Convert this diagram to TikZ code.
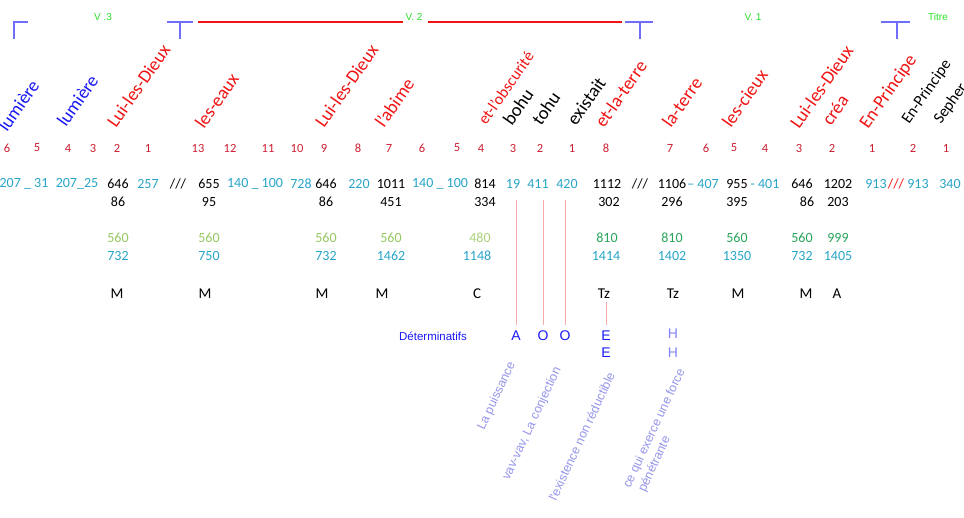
\documentclass[tikz,border=0pt]{standalone}
\usepackage{fontspec}
\setmainfont{Carlito}
\newfontfamily\arial{Liberation Sans}
\usetikzlibrary{positioning}

\definecolor{bleumot}{RGB}{25,25,245}
\definecolor{rougemot}{RGB}{240,20,20}
\definecolor{rougeidx}{RGB}{205,30,50}
\definecolor{cyanval}{RGB}{40,165,200}
\definecolor{vertclair}{RGB}{150,200,100}
\definecolor{vertpale}{RGB}{170,210,120}
\definecolor{vertfonce}{RGB}{40,165,90}
\definecolor{vertvers}{RGB}{40,225,40}
\definecolor{bleutrait}{RGB}{110,110,250}
\definecolor{roselien}{RGB}{245,170,170}
\definecolor{mauve}{RGB}{150,150,235}
\definecolor{bleuh}{RGB}{130,130,250}

\begin{document}
\begin{tikzpicture}[x=1pt,y=-1pt,inner sep=0pt]

	\tikzstyle{mot}=[rotate=55,anchor=base west,font=\fontsize{18.5}{20}\selectfont]
	\tikzstyle{motpetit}=[rotate=55,anchor=base west,font=\fontsize{16}{18}\selectfont]
	\tikzstyle{idx}=[text=rougeidx,font=\fontsize{12.5}{14}\selectfont]
	\tikzstyle{val}=[font=\fontsize{14}{16}\selectfont]
	\tikzstyle{lettre}=[font=\fontsize{15}{17}\selectfont]
	\tikzstyle{vers}=[text=vertvers,font=\arial\fontsize{10}{12}\selectfont]
	\tikzstyle{crochet}=[draw=bleutrait,line width=1.5pt]
	\tikzstyle{lien}=[draw=roselien,line width=1pt]
	\tikzstyle{det}=[text=bleumot,font=\arial\fontsize{14}{16}\selectfont]
	\tikzstyle{sens}=[rotate=65,anchor=base west,text=mauve,font=\arial\fontsize{12.5}{14}\selectfont]

	\useasboundingbox[fill=white] (0,0) rectangle (964,518);

	% versets
	\draw[crochet] (28,22) -- (14,22) -- (14,39);
	\draw[crochet] (167,22) -- (193,22) (180,22) -- (180,39);
	\draw[draw=rougemot,line width=2pt] (198,22) -- (403,22) (428,22) -- (622,22);
	\draw[crochet] (625,22) -- (653,22) (640,22) -- (640,39);
	\draw[crochet] (881,22) -- (910,22) (897,22) -- (897,39);
	\node[vers] (v3) at (103,17) {V .3};
	\node[vers] (v2) at (414,17) {V. 2};
	\node[vers] (v1) at (753,17) {V. 1};
	\node[vers] (titre) at (938,17) {Titre};

	% mots
	\node[mot,text=bleumot] (lumA) at (7,133) {lumière};
	\node[mot,text=bleumot] (lumB) at (66,128) {lumière};
	\node[mot,text=rougemot] (dieuxA) at (116,129) {Lui-les-Dieux};
	\node[mot,text=rougemot] (eaux) at (204,130) {les-eaux};
	\node[mot,text=rougemot] (dieuxB) at (324,129) {Lui-les-Dieux};
	\node[mot,text=rougemot] (abime) at (384,129) {l'abime};
	\node[motpetit,text=rougemot] (obscur) at (486,126) {et-l'obscurité};
	\node[mot,text=black] (bohu) at (512,127) {bohu};
	\node[mot,text=black] (tohu) at (541,127) {tohu};
	\node[mot,text=black] (existait) at (576,127) {existait};
	\node[mot,text=rougemot] (etterre) at (604,129) {et-la-terre};
	\node[mot,text=rougemot] (terre) at (671,129) {la-terre};
	\node[mot,text=rougemot] (cieux) at (731,129) {les-cieux};
	\node[mot,text=rougemot] (dieuxC) at (799,130) {Lui-les-Dieux};
	\node[mot,text=rougemot] (crea) at (831,127) {créa};
	\node[mot,text=rougemot] (principeA) at (868,130) {En-Principe};
	\node[motpetit,text=black] (principeB) at (909,125) {En-Principe};
	\node[motpetit,text=black] (sepher) at (941,125) {Sepher};

	% rangs
	\node[idx] (i6a) at (7,148) {6};
	\node[idx] (i5a) at (37,148) {5};
	\node[idx] (i4a) at (68,148) {4};
	\node[idx] (i3a) at (93,148) {3};
	\node[idx] (i2a) at (117,148) {2};
	\node[idx] (i1a) at (148,148) {1};
	\node[idx] (i13b) at (198,148) {13};
	\node[idx] (i12b) at (230,148) {12};
	\node[idx] (i11b) at (268,148) {11};
	\node[idx] (i10b) at (297,148) {10};
	\node[idx] (i9b) at (324,148) {9};
	\node[idx] (i8b) at (358,148) {8};
	\node[idx] (i7b) at (389,148) {7};
	\node[idx] (i6b) at (422,148) {6};
	\node[idx] (i5b) at (457,148) {5};
	\node[idx] (i4b) at (481,148) {4};
	\node[idx] (i3b) at (513,148) {3};
	\node[idx] (i2b) at (540,148) {2};
	\node[idx] (i1b) at (572,148) {1};
	\node[idx] (i8c) at (606,148) {8};
	\node[idx] (i7c) at (670,148) {7};
	\node[idx] (i6c) at (706,148) {6};
	\node[idx] (i5c) at (734,148) {5};
	\node[idx] (i4c) at (765,148) {4};
	\node[idx] (i3c) at (799,148) {3};
	\node[idx] (i2c) at (832,148) {2};
	\node[idx] (i1c) at (872,148) {1};
	\node[idx] (i2d) at (913,148) {2};
	\node[idx] (i1d) at (946,148) {1};

	% valeurs
	\node[val,text=cyanval] (n207a) at (24,184) {207 \_ 31};
	\node[val,text=cyanval] (n207b) at (77,184) {207\_25};
	\node[val] (n646a) at (118,184) {646};
	\node[val,text=cyanval] (n257) at (148,184) {257};
	\node[val] (barA) at (178,184) {///};
	\node[val] (n655) at (209,184) {655};
	\node[val,text=cyanval] (n140a) at (255,184) {140 \_ 100};
	\node[val,text=cyanval] (n728) at (301,184) {728};
	\node[val] (n646b) at (326,184) {646};
	\node[val,text=cyanval] (n220) at (359,184) {220};
	\node[val] (n1011) at (391,184) {1011};
	\node[val,text=cyanval] (n140b) at (440,184) {140 \_ 100};
	\node[val] (n814) at (485,184) {814};
	\node[val,text=cyanval] (n19) at (513,184) {19};
	\node[val,text=cyanval] (n411) at (538,184) {411};
	\node[val,text=cyanval] (n420) at (567,184) {420};
	\node[val] (n1112) at (607,184) {1112};
	\node[val] (barB) at (640,184) {///};
	\node[val] (n1106) at (672,184) {1106};
	\node[val,text=cyanval] (n407) at (703,184) {– 407};
	\node[val] (n955) at (737,184) {955};
	\node[val,text=cyanval] (n401) at (765,184) {- 401};
	\node[val] (n646c) at (802,184) {646};
	\node[val] (n1202) at (838,184) {1202};
	\node[val,text=cyanval] (n913a) at (876,184) {913};
	\node[val,text=rougemot] (barC) at (896,184) {///};
	\node[val,text=cyanval] (n913b) at (918,184) {913};
	\node[val,text=cyanval] (n340) at (950,184) {340};

	\node[val] (n86a) at (118,202) {86};
	\node[val] (n95) at (209,202) {95};
	\node[val] (n86b) at (326,202) {86};
	\node[val] (n451) at (391,202) {451};
	\node[val] (n334) at (485,202) {334};
	\node[val] (n302) at (609,202) {302};
	\node[val] (n296) at (672,202) {296};
	\node[val] (n395) at (737,202) {395};
	\node[val] (n86c) at (807,202) {86};
	\node[val] (n203) at (838,202) {203};

	\node[val,text=vertclair] (p560a) at (118,238) {560};
	\node[val,text=vertclair] (p560b) at (209,238) {560};
	\node[val,text=vertclair] (p560c) at (326,238) {560};
	\node[val,text=vertclair] (p560d) at (391,238) {560};
	\node[val,text=vertpale] (p480) at (480,238) {480};
	\node[val,text=vertfonce] (p810a) at (607,238) {810};
	\node[val,text=vertfonce] (p810b) at (672,238) {810};
	\node[val,text=vertfonce] (p560e) at (737,238) {560};
	\node[val,text=vertfonce] (p560f) at (802,238) {560};
	\node[val,text=vertfonce] (p999) at (838,238) {999};

	\node[val,text=cyanval] (t732a) at (118,256) {732};
	\node[val,text=cyanval] (t750) at (209,256) {750};
	\node[val,text=cyanval] (t732b) at (326,256) {732};
	\node[val,text=cyanval] (t1462) at (391,256) {1462};
	\node[val,text=cyanval] (t1148) at (477,256) {1148};
	\node[val,text=cyanval] (t1414) at (606,256) {1414};
	\node[val,text=cyanval] (t1402) at (672,256) {1402};
	\node[val,text=cyanval] (t1350) at (737,256) {1350};
	\node[val,text=cyanval] (t732c) at (802,256) {732};
	\node[val,text=cyanval] (t1405) at (838,256) {1405};

	% lettres
	\node[lettre] (mA) at (117,294) {M};
	\node[lettre] (mB) at (205,294) {M};
	\node[lettre] (mC) at (322,294) {M};
	\node[lettre] (mD) at (382,294) {M};
	\node[lettre] (cA) at (477,294) {C};
	\node[lettre] (tzA) at (604,294) {Tz};
	\node[lettre] (tzB) at (673,294) {Tz};
	\node[lettre] (mE) at (738,294) {M};
	\node[lettre] (mF) at (806,294) {M};
	\node[lettre] (aA) at (837,294) {A};

	% determinatifs
	\node[text=bleumot,font=\arial\fontsize{11.5}{13}\selectfont] (determ) at (433,336) {Déterminatifs};
	\node[det] (dA) at (516,336) {A};
	\node[det] (dO) at (543,336) {O};
	\node[det] (dOb) at (565,336) {O};
	\node[det] (dE) at (606,336) {E};
	\node[det] (dEb) at (606,353) {E};
	\node[det,text=bleuh] (dH) at (673,334) {H};
	\node[det,text=bleuh] (dHb) at (673,353) {H};

	\draw[lien,shorten <=11pt,shorten >=6pt] (dA.north |- n19.south) -- (dA.north);
	\draw[lien,shorten <=11pt,shorten >=6pt] (dO.north |- n411.south) -- (dO.north);
	\draw[lien,shorten <=11pt,shorten >=6pt] (dOb.north |- n420.south) -- (dOb.north);
	\draw[lien,shorten <=3pt,shorten >=6pt] (dE.north |- tzA.south) -- (dE.north);

	% sens
	\node[sens] (puissance) at (484,431) {La puissance};
	\node[sens] (conjection) at (509,481) {vav-vav, La conjection};
	\node[sens] (existence) at (556,502) {l'existence non réductible};
	\node[sens] (force) at (630,489) {ce qui exerce une force};
	\node[sens] (penetre) at (645,493) {pénétrante};

\end{tikzpicture}
\end{document}
